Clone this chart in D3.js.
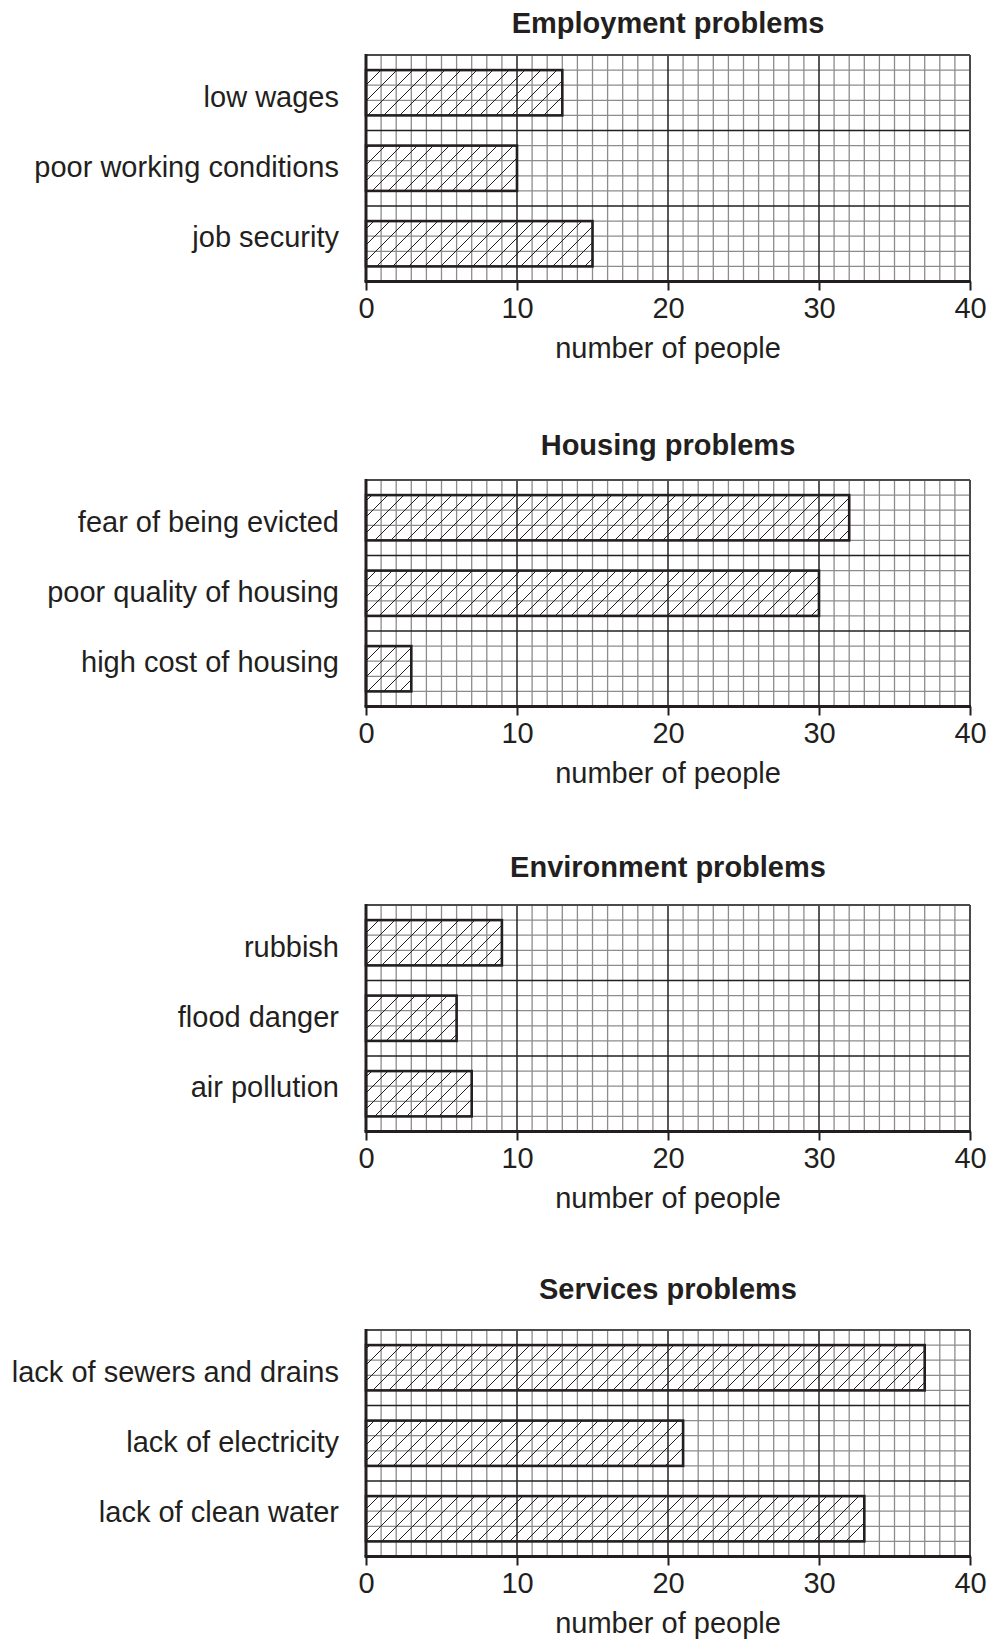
<!DOCTYPE html>
<html>
<head>
<meta charset="utf-8">
<script src="https://cdn.jsdelivr.net/npm/d3@7"></script>
<style>
  body { margin: 0; background: #fff; }
  text { font-family: "Liberation Sans", Arial, sans-serif; fill: #231f20; }
</style>
</head>
<body>
<svg id="chart" width="990" height="1641"></svg>
<script>
// data
const titles = ['Employment problems', 'Housing problems', 'Environment problems', 'Services problems']
const employmentCats = ['low wages', 'poor working conditions', 'job security']
const employmentVals = [13, 10, 15]
const housingCats = ['fear of being evicted', 'poor quality of housing', 'high cost of housing']
const housingVals = [32, 30, 3]
const environmentCats = ['rubbish', 'flood danger', 'air pollution']
const environmentVals = [9, 6, 7]
const servicesCats = ['lack of sewers and drains', 'lack of electricity', 'lack of clean water']
const servicesVals = [37, 21, 33]
const xTicks = [0, 10, 20, 30, 40]
const axisLabel = 'number of people'

const cats = [employmentCats, housingCats, environmentCats, servicesCats]
const vals = [employmentVals, housingVals, environmentVals, servicesVals]

const dark = '#231f20'
const grey = '#8c8c8c'
const left = 366, right = 970
const rows = 15
const cell = (right - left) / 40
const plotH = rows * cell

const svg = d3.select('#chart')
svg.append('rect').attr('width', 990).attr('height', 1641).attr('fill', '#fff')

svg.append('defs').append('pattern')
	.attr('id', 'hatch')
	.attr('patternUnits', 'userSpaceOnUse')
	.attr('width', 16)
	.attr('height', 16)
	.attr('x', 3)
	.append('path')
	.attr('d', 'M0,16 L16,0 M-4,4 L4,-4 M12,20 L20,12')
	.attr('stroke', dark)
	.attr('stroke-width', 1)

const x = d3.scaleLinear().domain([0, 40]).range([left, right])

titles.forEach((title, i) => {
	let top = 55 + i * 425
	let bottom = top + plotH
	let g = svg.append('g')

	let rowY = d3.scaleLinear().domain([0, rows]).range([top, bottom])
	let y = d3.scaleBand()
		.domain(cats[i])
		.range([top, bottom])
		.paddingInner(0.4)
		.paddingOuter(0.2)
	let labelY = d3.scalePoint()
		.domain(cats[i])
		.range([top + 52, top + 192])

	// minor grid
	g.selectAll('.vminor')
		.data(d3.range(1, 40).filter(v => v % 10))
		.enter().append('line')
		.attr('x1', d => x(d)).attr('x2', d => x(d))
		.attr('y1', top).attr('y2', bottom)
		.attr('stroke', grey).attr('stroke-width', 1.3)
	g.selectAll('.hminor')
		.data(d3.range(1, rows).filter(v => v % 5))
		.enter().append('line')
		.attr('x1', left).attr('x2', right)
		.attr('y1', d => rowY(d)).attr('y2', d => rowY(d))
		.attr('stroke', grey).attr('stroke-width', 1.3)

	// major grid
	g.selectAll('.vmajor')
		.data([10, 20, 30])
		.enter().append('line')
		.attr('x1', d => x(d)).attr('x2', d => x(d))
		.attr('y1', top).attr('y2', bottom)
		.attr('stroke', dark).attr('stroke-width', 1.5)
	g.selectAll('.hmajor')
		.data([5, 10])
		.enter().append('line')
		.attr('x1', left).attr('x2', right)
		.attr('y1', d => rowY(d)).attr('y2', d => rowY(d))
		.attr('stroke', dark).attr('stroke-width', 1.5)

	// bars
	g.selectAll('.bar')
		.data(vals[i])
		.enter().append('rect')
		.attr('x', x(0))
		.attr('y', (d, j) => y(cats[i][j]))
		.attr('width', d => x(d) - x(0))
		.attr('height', y.bandwidth())
		.attr('fill', 'url(#hatch)')
		.attr('stroke', dark)
		.attr('stroke-width', 2.6)

	// frame
	g.append('line').attr('x1', left).attr('x2', right).attr('y1', top).attr('y2', top)
		.attr('stroke', '#4a4a4a').attr('stroke-width', 2)
	g.append('line').attr('x1', right).attr('x2', right).attr('y1', top).attr('y2', bottom)
		.attr('stroke', '#4a4a4a').attr('stroke-width', 2)
	g.append('line').attr('x1', left).attr('x2', left).attr('y1', top - 1).attr('y2', bottom)
		.attr('stroke', dark).attr('stroke-width', 3)

	// x axis
	let axis = g.append('g')
		.attr('transform', `translate(0,${bottom})`)
		.call(d3.axisBottom(x).tickValues(xTicks).tickSize(9).tickPadding(6.5))
	axis.select('.domain')
		.attr('stroke', dark).attr('stroke-width', 3)
		.attr('d', `M${left - 1.5},0H${right + 1}`)
	axis.selectAll('.tick line').attr('stroke', dark).attr('stroke-width', 2)
	axis.selectAll('.tick text')
		.style('font-family', '"Liberation Sans", Arial, sans-serif')
		.style('font-size', '29px')
		.attr('fill', dark)

	g.append('text')
		.attr('x', (left + right) / 2)
		.attr('y', bottom + 76)
		.attr('text-anchor', 'middle')
		.style('font-size', '29px')
		.text(axisLabel)

	// category labels
	g.selectAll('.cat')
		.data(cats[i])
		.enter().append('text')
		.attr('x', 339)
		.attr('y', d => labelY(d))
		.attr('text-anchor', 'end')
		.style('font-size', '29px')
		.text(d => d)

	g.append('text')
		.attr('x', (left + right) / 2)
		.attr('y', 33 + i * 422)
		.attr('text-anchor', 'middle')
		.style('font-size', '29px')
		.style('font-weight', 'bold')
		.text(title)
})
</script>
</body>
</html>
